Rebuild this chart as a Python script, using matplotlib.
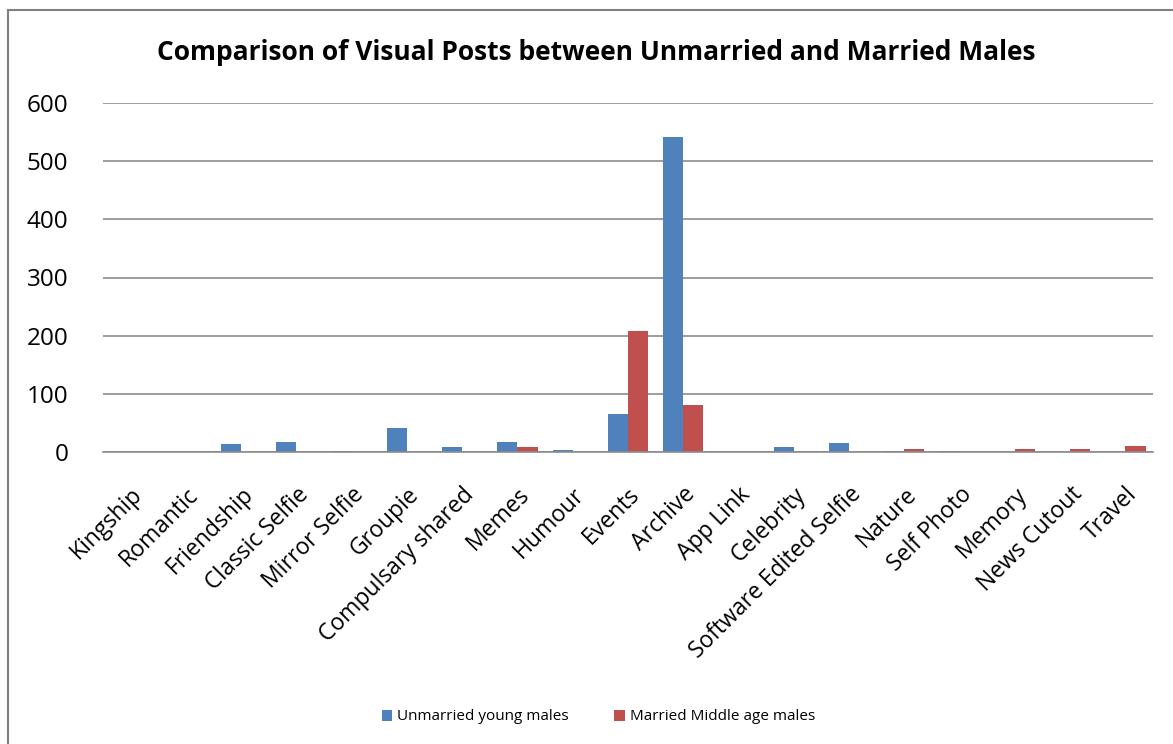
import matplotlib.pyplot as plt
import numpy as np
from matplotlib.patches import Rectangle

categories = ['Kingship', 'Romantic', 'Friendship', 'Classic Selfie', 'Mirror Selfie',
              'Groupie', 'Compulsary shared', 'Memes', 'Humour', 'Events', 'Archive',
              'App Link', 'Celebrity', 'Software Edited Selfie', 'Nature', 'Self Photo',
              'Memory', 'News Cutout', 'Travel']
unmarried = [0, 0, 14, 18, 1, 41, 8, 18, 3, 66, 542, 0, 8, 16, 1, 2, 0, 0, 0]
married = [0, 0, 0, 0, 0, 0, 0, 8, 0, 208, 80, 0, 0, 0, 6, 0, 5, 5, 11]

plt.rcParams['font.family'] = ['Open Sans', 'DejaVu Sans']

fig = plt.figure(figsize=(11.73, 7.44), dpi=100)
ax = fig.add_axes([103 / 1173, 1 - 452 / 744, 1050 / 1173, 349 / 744])

x = np.arange(len(categories))
w = 0.365
ax.bar(x - w / 2, unmarried, w, color='#4F81BD', label='Unmarried young males')
ax.bar(x + w / 2, married, w, color='#C0504D', label='Married Middle age males')

ax.set_xlim(-0.5, len(categories) - 0.5)
ax.set_ylim(0, 600)
ax.set_yticks(range(0, 601, 100))
ax.yaxis.grid(True, color='#8c8c8c', linewidth=1.2)
ax.set_axisbelow(True)
for s in ['top', 'right', 'left']:
    ax.spines[s].set_visible(False)
ax.spines['bottom'].set_color('#8c8c8c')
ax.spines['bottom'].set_linewidth(1.2)
ax.tick_params(axis='y', length=0, labelsize=17.5, pad=25)
ax.tick_params(axis='x', length=0, labelsize=16.5, pad=22)
ax.set_xticks(x)
ax.set_xticklabels(categories, rotation=45, ha='right', rotation_mode='anchor')

fig.text(0.508, 1 - 53 / 744, 'Comparison of Visual Posts between Unmarried and Married Males',
         ha='center', va='center', fontsize=19, fontweight='bold')

fig.legend(loc='center', bbox_to_anchor=(0.51, 1 - 717 / 744), ncol=2, frameon=False,
           fontsize=11, handlelength=0.7, handleheight=0.7, columnspacing=3.0, handletextpad=0.3)

fig.patches.append(Rectangle((8 / 1173, -0.01), 1.0, 1 - 10 / 744 + 0.01,
                             transform=fig.transFigure, fill=False,
                             edgecolor='#808080', linewidth=1.5))

fig.savefig('out.png', dpi=100)
